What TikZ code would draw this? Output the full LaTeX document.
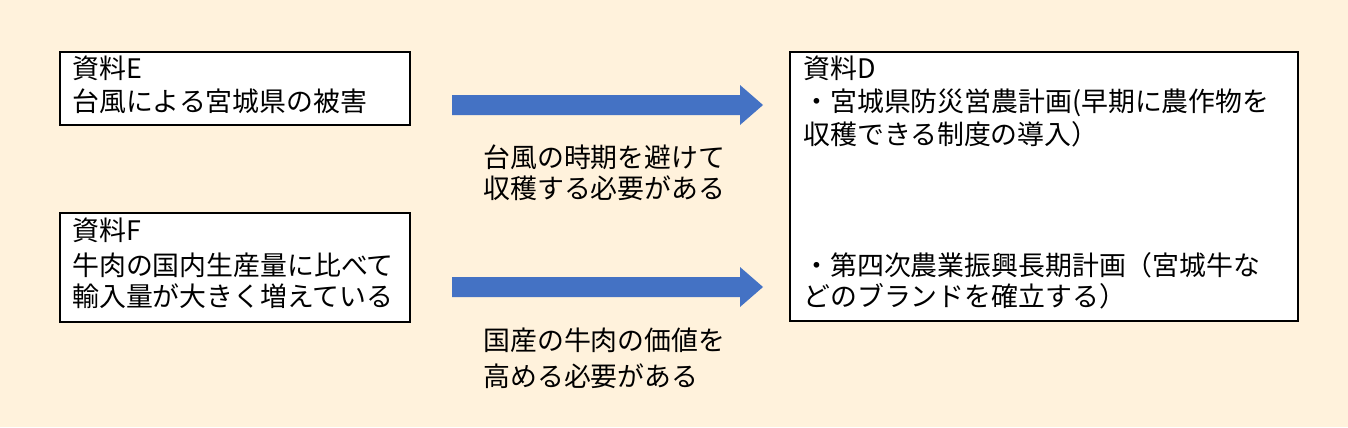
\documentclass[tikz,border=0pt]{standalone}
\usepackage{fontspec}
\newfontfamily\cjk{Noto Sans CJK JP}
\usetikzlibrary{shapes.arrows}
\definecolor{bg}{HTML}{FFF2DC}
\definecolor{arr}{HTML}{4472C4}
\begin{document}
\begin{tikzpicture}[x=0.02cm,y=-0.02cm,
 box/.style={draw=black,line width=1.2pt,fill=white},
 t/.style={anchor=base west,inner sep=0pt,font=\cjk\fontsize{15.3pt}{18pt}\selectfont},
 bar/.style={fill=arr,draw=none}]
\fill[bg] (0,0) rectangle (1348,427);
\useasboundingbox (0,0) rectangle (1348,427);
\draw[box] (60,52) rectangle (410,125);
\draw[box] (60,213) rectangle (410,322);
\draw[box] (790,52) rectangle (1298,321);
\fill[bar] (452,95) -- (740,95) -- (740,85) -- (763,105) -- (740,125) -- (740,115) -- (452,115) -- cycle;
\fill[bar] (452,277) -- (740,277) -- (740,267) -- (763,287) -- (740,307) -- (740,297) -- (452,297) -- cycle;
\node[t] (e1) at (72,78) {資料E};
\node[t] (e2) at (72,111) {台風による宮城県の被害};
\node[t] (f1) at (72,240) {資料F};
\node[t] (f2) at (72,275) {牛肉の国内生産量に比べて};
\node[t] (f3) at (72,306) {輸入量が大きく増えている};
\node[t] (d1) at (803,78) {資料D};
\node[t] (d2) at (803,111) {・宮城県防災営農計画(早期に農作物を};
\node[t] (d3) at (803,144) {収穫できる制度の導入）};
\node[t] (d4) at (803,275) {・第四次農業振興長期計画（宮城牛な};
\node[t] (d5) at (803,306) {どのブランドを確立する）};
\node[t] (m1) at (483,167) {台風の時期を避けて};
\node[t] (m2) at (483,198) {収穫する必要がある};
\node[t] (m3) at (483,350) {国産の牛肉の価値を};
\node[t] (m4) at (483,386) {高める必要がある};
\end{tikzpicture}
\end{document}
